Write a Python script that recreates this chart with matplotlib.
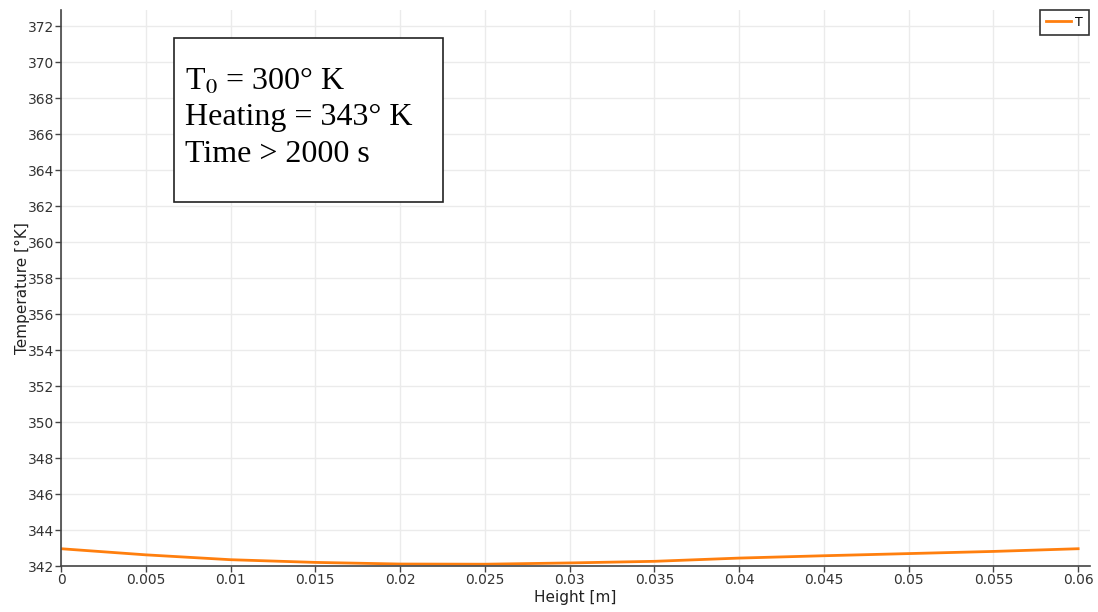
import matplotlib
matplotlib.use("Agg")
import matplotlib.pyplot as plt
from matplotlib.patches import Rectangle

# temperature profile along the height
height = [0.0, 0.005, 0.01, 0.015, 0.02, 0.025, 0.03, 0.035, 0.04, 0.045, 0.05, 0.055, 0.06]
temp = [342.96, 342.62, 342.35, 342.2, 342.11, 342.1, 342.17, 342.26, 342.44, 342.57, 342.69, 342.81, 342.96]

x_ticks = [0.0, 0.005, 0.01, 0.015, 0.02, 0.025, 0.03, 0.035, 0.04, 0.045, 0.05, 0.055, 0.06]
x_labels = ["0", "0.005", "0.01", "0.015", "0.02", "0.025", "0.03", "0.035", "0.04", "0.045", "0.05", "0.055", "0.06"]
y_ticks = list(range(342, 373, 2))

info_lines = ["T$_0$ = 300° K", "Heating = 343° K", "Time > 2000 s"]

plt.rcParams["mathtext.fontset"] = "stix"

fig = plt.figure(figsize=(10.98, 6.12), dpi=100)
ax = fig.add_axes([61 / 1098, 1 - 566 / 612, (1090 - 61) / 1098, (566 - 10) / 612])

ax.plot(height, temp, color="#ff7f0e", linewidth=2.0, label="T")

ax.set_xlim(0, 0.0607)
ax.set_ylim(342, 372.9)
ax.set_xticks(x_ticks)
ax.set_xticklabels(x_labels)
ax.set_yticks(y_ticks)
ax.grid(True, color="#ebebeb", linewidth=1.0)
ax.set_axisbelow(True)

for side in ["top", "right"]:
    ax.spines[side].set_visible(False)
for side in ["left", "bottom"]:
    ax.spines[side].set_color("#444444")
    ax.spines[side].set_linewidth(1.2)

ax.tick_params(axis="both", direction="out", length=4, width=1, color="#444444",
               labelcolor="#333333", labelsize=10, pad=1)
ax.set_xlabel("Height [m]", fontsize=11, color="#222222", labelpad=2)
ax.set_ylabel("Temperature [°K]", fontsize=11, color="#222222", labelpad=-2)

leg = ax.legend(loc="upper right", fontsize=9, handlelength=2.0, handletextpad=0.3,
                borderpad=0.5, fancybox=False, framealpha=1, bbox_to_anchor=(1.005, 1.012))
leg.get_frame().set_edgecolor("#333333")
leg.get_frame().set_linewidth(1.2)

# annotation box with the run conditions
fig.patches.append(Rectangle((174 / 1098, 1 - 202 / 612), (443 - 174) / 1098, (202 - 38) / 612,
                             transform=fig.transFigure, facecolor="white", edgecolor="#222222",
                             linewidth=1.2, zorder=5))
for i, line in enumerate(info_lines):
    fig.text(185 / 1098, 1 - (82 + i * 36) / 612, line, fontsize=23, family="Liberation Serif",
             va="center", ha="left", color="black", zorder=6)

fig.savefig("out.png", dpi=100)
